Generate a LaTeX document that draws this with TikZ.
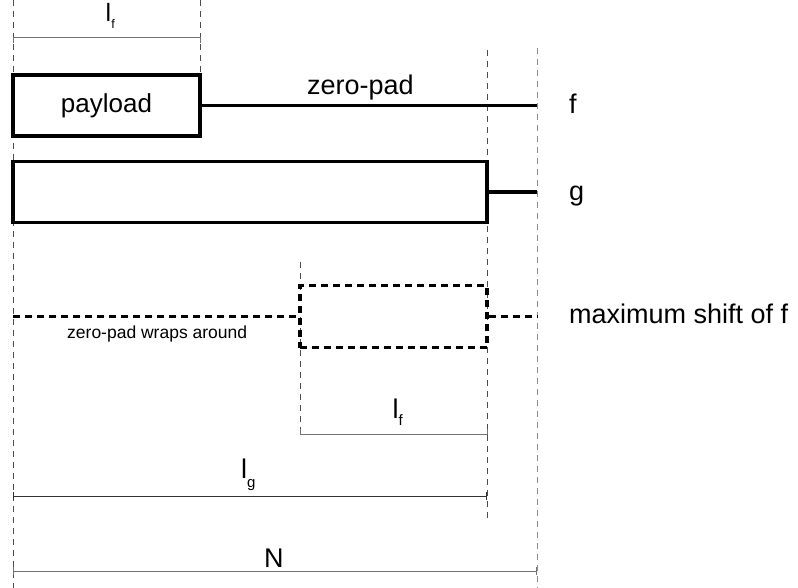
\documentclass[tikz,border=0pt]{standalone}
\usepackage{fontspec}
\setmainfont{Liberation Sans}
\usetikzlibrary{arrows.meta}
% length label: a letter with a lowered small subscript
% #1 letter, #2 subscript, #3 subscript size, #4 drop
\newcommand\lensub[4]{#1\raisebox{-#4}{\fontsize{#3}{#3}\selectfont #2}}
\begin{document}
\begin{tikzpicture}[x=1pt,y=-1pt,
  guide/.style={black!70, line width=1pt, dash pattern=on 6pt off 5pt},
  guidepale/.style={guide, black!45},
  block/.style={draw, line width=3.3pt, inner sep=0pt, font=\fontsize{26}{30}\selectfont},
  shiftblock/.style={block, dash pattern=on 7pt off 5pt},
  wire/.style={line width=3.3pt},
  shiftwire/.style={wire, dash pattern=on 7pt off 5pt},
  dim/.style={black!55, line width=1pt},
  dimdark/.style={black!80, line width=1pt},
  big/.style={inner sep=0pt, anchor=base west, font=\fontsize{27}{31}\selectfont},
  small/.style={inner sep=0pt, anchor=base west, font=\fontsize{17.5}{21}\selectfont},
]
\useasboundingbox (0,0) rectangle (798,588);

% guide lines
\coordinate (gA0) at (13,0);    \coordinate (gA1) at (13,588);
\coordinate (gB0) at (200,0);   \coordinate (gB1) at (200,74);
\coordinate (gC0) at (300,262); \coordinate (gC1) at (300,434);
\coordinate (gD0) at (487,50);  \coordinate (gD1) at (487,522);
\coordinate (gE0) at (537,48);  \coordinate (gE1) at (537,588);
\draw[guide] (gA0) -- (gA1);
\draw[guide] (gB0) -- (gB1);
\draw[guide] (gC0) -- (gC1);
\draw[guide] (gD0) -- (gD1);
\draw[guidepale] (gE0) -- (gE1);

% signal f: payload followed by zero padding
\node[block, minimum width=187pt, minimum height=61pt] (payload) at (106.5,105.5) {payload};
\coordinate (fEnd) at (537,105.5);
\draw[wire] (payload.east) -- (fEnd);
\node[big] (zp) at (307,95) {zero-pad};
\node[big] (flab) at (569,114) {f};

% signal g
\node[block, minimum width=474pt, minimum height=61pt] (gblock) at (250,192) {};
\coordinate (gEnd) at (537,192);
\draw[wire] (gblock.east) -- (gEnd);
\node[big] (glab) at (569,201) {g};

% f at its largest shift
\node[shiftblock, minimum width=187pt, minimum height=62pt] (shifted) at (393.5,316.5) {};
\coordinate (wrapStart) at (13,316.5);
\coordinate (wrapEnd) at (537,316.5);
\draw[shiftwire] (wrapStart) -- (shifted.west);
\draw[shiftwire] (shifted.east) -- (wrapEnd);
\node[small] (wraplab) at (67,338) {zero-pad wraps around};
\node[big] (maxlab) at (569,323) {maximum shift of f};

% lengths
\coordinate (lfA) at (13,38);   \coordinate (lfB) at (200,38);
\draw[dim] ([yshift=-5pt]lfA) -- (lfA) -- (lfB) -- ([yshift=-5pt]lfB);
\node[big, font=\fontsize{25}{29}\selectfont] (lftop) at (105.5,22) {\lensub{l}{f}{12.5}{7pt}};

\coordinate (lsA) at (300,434); \coordinate (lsB) at (487,434);
\draw[dim] ([yshift=5pt]lsA) -- (lsA) -- (lsB) -- ([yshift=5pt]lsB);
\node[big] (lfbot) at (392.5,418) {\lensub{l}{f}{15}{7pt}};

\coordinate (lgA) at (13,496);  \coordinate (lgB) at (487,496);
\draw[dimdark, {Bar[width=8pt]}-{Bar[width=8pt]}] (lgA) -- (lgB);
\node[big] (lglab) at (241,478) {\lensub{l}{g}{15}{9pt}};

\coordinate (nA) at (13,571);   \coordinate (nB) at (537,571);
\draw[dim, {Bar[width=8pt]}-{Bar[width=8pt]}] (nA) -- (nB);
\node[big] (Nlab) at (264,567) {N};
\end{tikzpicture}
\end{document}
